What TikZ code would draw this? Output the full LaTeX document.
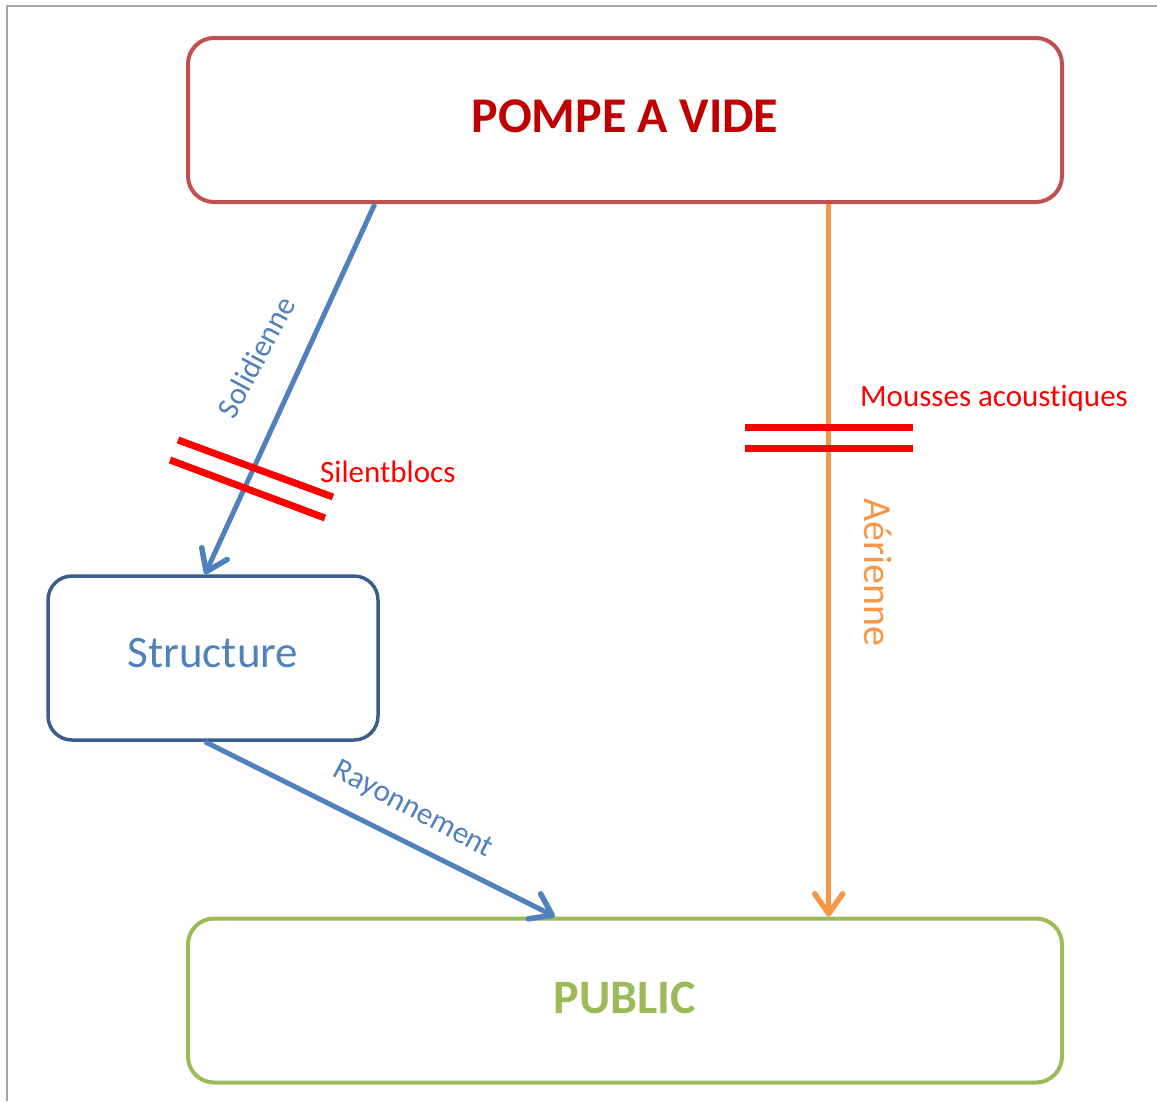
\documentclass[tikz,border=0pt]{standalone}
\usepackage{fontspec}
\setmainfont{Carlito}[Ligatures=NoCommon]
\usetikzlibrary{arrows.meta,calc}
\definecolor{boxred}{HTML}{C0504D}
\definecolor{txtred}{HTML}{C00000}
\definecolor{boxblue}{HTML}{385D8A}
\definecolor{txtblue}{HTML}{4F81BD}
\definecolor{boxgreen}{HTML}{9BBB59}
\definecolor{arrorange}{HTML}{F79646}
\definecolor{barred}{HTML}{FF0000}
\definecolor{framegray}{HTML}{A6A6A6}
\tikzset{
  bigbox/.style={draw, line width=4pt, rounded corners=26pt, minimum width=874pt, minimum height=164pt, inner sep=0pt},
  smallbox/.style={draw, line width=3.5pt, rounded corners=24pt, minimum width=330pt, minimum height=164pt, inner sep=0pt},
  flow/.style={line width=5pt, -{Straight Barb[length=20pt,width=28pt,line width=5.5pt,round]}},
  barline/.style={barred, line width=7pt},
  lbl/.style={font=\fontsize{31}{36}\selectfont, inner sep=0pt},
}
\begin{document}
\begin{tikzpicture}[x=1pt,y=-1pt]
\useasboundingbox (0,0) rectangle (1157,1101);
% frame
\draw[framegray, line width=2pt] (7,1101) -- (7,5.5) -- (1157,5.5);
% boxes
\node[bigbox, draw=boxred, text=txtred, font=\fontsize{50}{60}\selectfont\bfseries, text height=32pt, text depth=8pt] (pompe) at (625,120) {POMPE A VIDE};
\node[smallbox, draw=boxblue, text=txtblue, font=\fontsize{45}{54}\selectfont, text height=29pt, text depth=11pt] (structure) at (213,658) {Structure};
\node[bigbox, draw=boxgreen, text=boxgreen, font=\fontsize{48}{58}\selectfont\bfseries, text height=31pt, text depth=6pt] (public) at (625,1000.5) {PUBLIC};
% connectors
\draw[flow, txtblue] ($(pompe.south west)!0.215!(pompe.south east)$) -- ($(structure.north west)!0.476!(structure.north east)$);
\draw[flow, txtblue] ($(structure.south west)!0.476!(structure.south east)$) -- ($(public.north west)!0.42!(public.north east)$);
\draw[flow, arrorange] ($(pompe.south west)!0.732!(pompe.south east)$) -- ($(public.north west)!0.732!(public.north east)$);
% insulation bars
\draw[barline] (178,440) -- (333,497);
\draw[barline] (170,460) -- (325,518);
\draw[barline] (745,427) -- (913,427);
\draw[barline] (745,448) -- (913,448);
% labels
\node[lbl, text=txtblue, rotate=62] (solid) at (256,357) {Solidienne};
\node[lbl, text=barred, anchor=west] (silent) at (320,472) {Silentblocs};
\node[lbl, text=barred, anchor=west] (mousses) at (860,398) {Mousses acoustiques};
\node[lbl, text=arrorange, rotate=-90, font=\fontsize{40}{46}\selectfont] (aer) at (878,572) {Aérienne};
\node[lbl, text=txtblue, rotate=-28] (rayon) at (413,810) {Rayonnement};
\end{tikzpicture}
\end{document}
